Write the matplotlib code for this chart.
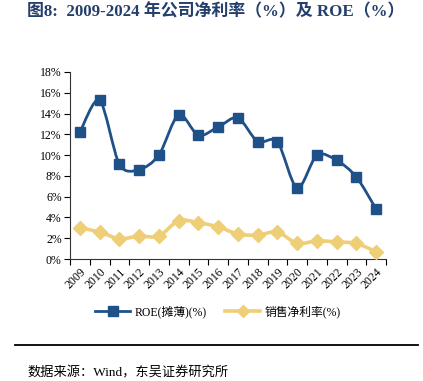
import numpy as np
import matplotlib
matplotlib.use("Agg")
import matplotlib.pyplot as plt
from matplotlib.path import Path
from matplotlib.patches import PathPatch
from matplotlib.lines import Line2D
from matplotlib.ticker import FixedLocator

years = [str(y) for y in range(2009, 2025)]
roe = [12.2, 15.3, 9.1, 8.6, 10.0, 13.9, 11.9, 12.7, 13.6, 11.3, 11.3, 6.8, 10.0, 9.5, 7.9, 4.8]
net_margin = [3.0, 2.6, 1.95, 2.2, 2.2, 3.7, 3.5, 3.1, 2.4, 2.3, 2.6, 1.5, 1.75, 1.65, 1.5, 0.7]

ROE_COLOR = "#1f5189"
NM_COLOR = "#eecf78"
SERIF = ["Liberation Serif", "Noto Sans CJK SC"]


def smooth_path(xs, ys, k=7.0):
    # Excel 风格平滑线：Catmull-Rom 转三次贝塞尔
    pts = np.column_stack([xs, ys]).astype(float)
    n = len(pts)
    verts = [pts[0]]
    codes = [Path.MOVETO]
    for i in range(n - 1):
        p0 = pts[i - 1] if i > 0 else pts[i]
        p1 = pts[i]
        p2 = pts[i + 1]
        p3 = pts[i + 2] if i + 2 < n else pts[i + 1]
        c1 = p1 + (p2 - p0) / k
        c2 = p2 - (p3 - p1) / k
        verts += [c1, c2, p2]
        codes += [Path.CURVE4] * 3
    return Path(verts, codes)


fig = plt.figure(figsize=(4.23, 3.81), dpi=100)
ax = fig.add_axes([70 / 423, 1 - 259 / 381, 316 / 423, 187 / 381])

x = np.arange(len(years))

# 平滑曲线
ax.add_patch(PathPatch(smooth_path(x, net_margin), facecolor="none",
                       edgecolor=NM_COLOR, lw=2.6, zorder=2))
ax.add_patch(PathPatch(smooth_path(x, roe), facecolor="none",
                       edgecolor=ROE_COLOR, lw=2.0, zorder=3))
ax.plot(x, net_margin, ls="none", marker="D", ms=7.5, color=NM_COLOR, zorder=4)
ax.plot(x, roe, ls="none", marker="s", ms=7.5, color=ROE_COLOR, zorder=5)

ax.set_xlim(-0.5, len(years) - 0.5)
ax.set_ylim(0, 18)
ax.set_yticks(np.arange(0, 19, 2))
ax.set_yticklabels([f"{v}%" for v in range(0, 19, 2)], fontsize=8.5, family=SERIF)
ax.set_xticks(x)
ax.set_xticklabels(years, rotation=45, ha="right", rotation_mode="anchor",
                   fontsize=8.5, family=SERIF)
ax.xaxis.set_major_locator(FixedLocator(x))
ax.xaxis.set_minor_locator(FixedLocator(np.arange(-0.5, len(years), 1)))
ax.tick_params(axis="x", which="major", length=0, pad=5)
ax.tick_params(axis="x", which="minor", length=4, width=0.8, direction="out")
ax.tick_params(axis="y", length=4, width=0.8, direction="out", pad=2)

for s in ["top", "right"]:
    ax.spines[s].set_visible(False)
for s in ["left", "bottom"]:
    ax.spines[s].set_linewidth(0.8)
    ax.spines[s].set_color("#333333")

handles = [
    Line2D([], [], color=ROE_COLOR, lw=2.0, marker="s", ms=7),
    Line2D([], [], color=NM_COLOR, lw=2.6, marker="D", ms=6),
]
fig.legend(handles, ["ROE(摊薄)(%)", "销售净利率(%)"], loc="center",
           bbox_to_anchor=(218 / 423, 1 - 312 / 381), ncol=2, frameon=False,
           prop={"family": SERIF, "size": 8.5}, handlelength=2.9,
           columnspacing=1.6, handletextpad=0.4)

fig.text(27 / 423, 1 - 12 / 381, "图8:  2009-2024 年公司净利率（%）及 ROE（%）",
         fontsize=12.2, fontweight="bold", color="#243f6b", family=SERIF,
         ha="left", va="center")

fig.add_artist(Line2D([15 / 423, 418 / 423], [1 - 345 / 381] * 2,
                      color="black", lw=1.3))
fig.text(27 / 423, 1 - 367 / 381, "数据来源：Wind，东吴证券研究所",
         fontsize=9.5, family=SERIF, ha="left", va="top")

fig.savefig("out.png", dpi=100)
